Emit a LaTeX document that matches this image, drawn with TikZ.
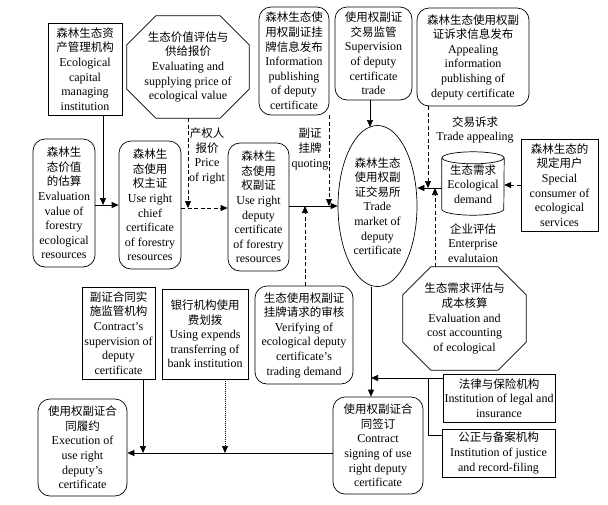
\documentclass[tikz,border=0pt]{standalone}
\usepackage{fontspec}
\setmainfont{Liberation Serif}
\newfontfamily\cjk{Noto Sans CJK SC}
\usetikzlibrary{shapes.geometric,calc,arrows.meta}
\newcommand\zh[1]{{\cjk\fontsize{11.5}{14.6}\selectfont #1}}
\tikzset{
  base/.style={align=center, inner sep=0pt, font=\fontsize{12}{14.6}\selectfont},
  lw/.style={line width=0.7pt},
  rbox/.style={base, lw, draw, rounded corners=12pt},
  sbox/.style={base, lw, draw},
  plain/.style={base},
  conn/.style={lw, -{Triangle[length=7pt,width=6pt]}},
  dconn/.style={conn, dash pattern=on 4pt off 2.5pt},
  pconn/.style={conn, dash pattern=on 1pt off 1pt},
}
\newcommand\octpath[2]{%
  \draw[lw] ($(#1.north west)+(#2,0)$) -- ($(#1.north east)+(-#2,0)$) -- ($(#1.north east)+(0,#2)$)
   -- ($(#1.south east)+(0,-#2)$) -- ($(#1.south east)+(-#2,0)$) -- ($(#1.south west)+(#2,0)$)
   -- ($(#1.south west)+(0,-#2)$) -- ($(#1.north west)+(0,#2)$) -- cycle;}
\begin{document}
\begin{tikzpicture}[x=1pt,y=-1pt]
\useasboundingbox (0,0) rectangle (608,504);
% boxes
\node[sbox, minimum width=74pt, minimum height=92pt] (b1) at (85,69)
  {\zh{森林生态资}\\\zh{产管理机构}\\Ecological\\capital\\managing\\institution};
\node[rbox, minimum width=62pt, minimum height=128pt] (b2) at (64,203)
  {\zh{森林生}\\\zh{态价值}\\\zh{的估算}\\Evaluation\\value of\\forestry\\ecological\\resources};
\node[rbox, minimum width=62pt, minimum height=128pt] (b3) at (150,205)
  {\zh{森林生}\\\zh{态使用}\\\zh{权主证}\\Use right\\chief\\certificate\\of forestry\\resources};
\node[rbox, minimum width=61pt, minimum height=128pt] (b4) at (258.5,207)
  {\zh{森林生}\\\zh{态使用}\\\zh{权副证}\\Use right\\deputy\\certificate\\of forestry\\resources};
\node[plain, minimum width=122pt, minimum height=102pt] (o1) at (188,67)
  {\zh{生态价值评估与}\\\zh{供给报价}\\Evaluating and\\supplying price of\\ecological value};
\octpath{o1}{29}
\node[rbox, minimum width=70pt, minimum height=108pt] (b5) at (294,61)
  {\zh{森林生态使}\\\zh{用权副证挂}\\\zh{牌信息发布}\\Information\\publishing\\of deputy\\certificate};
\node[rbox, minimum width=77pt, minimum height=93pt] (b6) at (373.5,53.5)
  {\zh{使用权副证}\\\zh{交易监管}\\Supervision\\of deputy\\certificate\\trade};
\node[rbox, minimum width=112pt, minimum height=98pt] (b7) at (473,57)
  {\zh{森林生态使用权副}\\\zh{证诉求信息发布}\\Appealing\\information\\publishing of\\deputy certificate};
\node[base, ellipse, lw, draw, minimum width=79pt, minimum height=161pt] (ell) at (377.5,206)
  {\zh{森林生态}\\\zh{使用权副}\\\zh{证交易所}\\Trade\\market of\\deputy\\certificate};
\node[plain, minimum width=62pt, minimum height=63pt] (cyl) at (473,183.5)
  {{}\\[-4pt]\zh{生态需求}\\Ecological\\demand};
\draw[lw] ($(cyl.north)+(0,6)$) ellipse [x radius=31pt, y radius=6pt];
\draw[lw] ($(cyl.north west)+(0,6)$) -- ($(cyl.south west)+(0,-6)$)
  arc[start angle=180, end angle=360, x radius=31pt, y radius=6pt] -- ($(cyl.north east)+(0,6)$);
\node[sbox, minimum width=77pt, minimum height=92pt] (b8) at (559.5,185)
  {\zh{森林生态的}\\\zh{规定用户}\\Special\\consumer of\\ecological\\services};
\node[plain, minimum width=123pt, minimum height=103pt] (o2) at (464.5,318.5)
  {\zh{生态需求评估与}\\\zh{成本核算}\\Evaluation and\\cost accounting\\of ecological};
\octpath{o2}{28}
\node[sbox, minimum width=73pt, minimum height=92pt] (b9) at (118.5,333)
  {\zh{副证合同实}\\\zh{施监管机构}\\Contract’s\\supervision of\\deputy\\certificate};
\node[sbox, minimum width=86pt, minimum height=90pt] (b10) at (205,334)
  {\zh{银行机构使用}\\\zh{费划拨}\\Using expends\\transferring of\\bank institution};
\node[rbox, minimum width=98pt, minimum height=98pt] (b11) at (304,335)
  {\zh{生态使用权副证}\\\zh{挂牌请求的审核}\\Verifying of\\ecological deputy\\certificate’s\\trading demand};
\node[sbox, minimum width=112pt, minimum height=48pt] (b12) at (499,398)
  {\zh{法律与保险机构}\\Institution of legal and\\insurance};
\node[sbox, minimum width=113pt, minimum height=48pt] (b13) at (498.5,453)
  {\zh{公正与备案机构}\\Institution of justice\\and record-filing};
\node[rbox, minimum width=90pt, minimum height=97pt] (b14) at (378,445.5)
  {\zh{使用权副证合}\\\zh{同签订}\\Contract\\signing of use\\right deputy\\certificate};
\node[rbox, minimum width=89pt, minimum height=97pt] (b15) at (82.5,447.5)
  {\zh{使用权副证合}\\\zh{同履约}\\Execution of\\use right\\deputy’s\\certificate};
% labels
\node[plain] (l1) at (207,156) {\zh{产权人}\\\zh{报价}\\Price\\of right};
\node[plain] (l2) at (310,149) {\zh{副证}\\\zh{挂牌}\\quoting};
\node[plain] (l3) at (475,130) {\zh{交易诉求}\\Trade appealing};
\node[plain] (l4) at (473,243) {\zh{企业评估}\\Enterprise\\evalutaion};
% junctions
\coordinate (j0) at (370,127);
\coordinate (j1) at (103,205);
\coordinate (j2) at (188,208);
\coordinate (j3) at (329,206);
\coordinate (j4) at (305,206);
\coordinate (j5) at (428,188);
\coordinate (j6) at (435,188);
\coordinate (j8) at (371,378);
\coordinate (j9) at (428,435);
\coordinate (j10) at (143,453);
\coordinate (j11) at (225,453);
% connectors
\draw[conn] (b1.south -| j1) -- (j1);
\draw[conn] (b2.east |- j1) -- (b3.west |- j1);
\draw[dconn] (b3.east |- j2) -- (b4.west |- j2);
\draw[dconn] (o1.south) -- (j2);
\draw[conn] (b4.east |- j3) -- (ell.west |- j3);
\draw[dconn] (b5.south -| j3) -- (j3);
\draw[dconn] (b11.north -| j4) -- (j4);
\draw[conn] (b6.south -| j0) -- (j0);
\draw[conn] (cyl.west |- j5) -- (ell.east |- j5);
\draw[dconn] (b7.south -| j5) -- (j5);
\draw[dconn] (o2.north -| j6) -- (j6);
\draw[dconn] (b8.west) -- (b8.west -| cyl.east);
\draw[conn] (ell.south -| j8) -- (b14.north -| j8);
\draw[conn] (b12.west |- j8) -- (j8);
\draw[lw] (j8 -| j9) -- (j9) -- (b13.west |- j9);
\draw[conn] (b14.west |- j10) -- (b15.east |- j10);
\draw[conn] (b9.south -| j10) -- (j10);
\draw[pconn] (b10.south -| j11) -- (j11);
\end{tikzpicture}
\end{document}
